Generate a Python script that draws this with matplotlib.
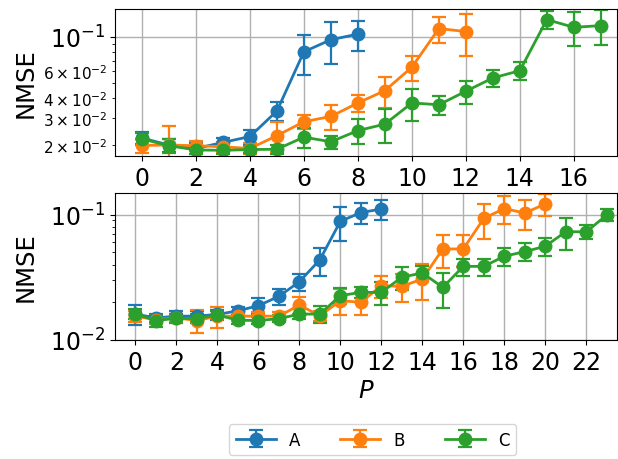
import numpy as np
import matplotlib
matplotlib.use("Agg")
import matplotlib.pyplot as plt

labels = ["A", "B", "C"]

# Top panel
top_x_A = list(range(0, 9))
top_A = [0.0222, 0.0200, 0.0190, 0.0208, 0.0227, 0.0332, 0.080, 0.0957, 0.104]
top_A_err = [0.002, 0.002, 0.0015, 0.0015, 0.0025, 0.0045, 0.023, 0.029, 0.023]

top_x_B = list(range(0, 13))
top_B = [0.0199, 0.0200, 0.0198, 0.0195, 0.0190, 0.0230, 0.0283, 0.0306, 0.0374,
         0.0449, 0.0636, 0.113, 0.108]
top_B_err = [0.002, 0.0067, 0.0015, 0.0015, 0.0015, 0.0050, 0.003, 0.0057, 0.0048,
             0.0103, 0.0117, 0.0215, 0.0325]

top_x_C = list(range(0, 18))
top_C = [0.0219, 0.0198, 0.0186, 0.0185, 0.0187, 0.0188, 0.0225, 0.0210, 0.0248,
         0.0273, 0.0374, 0.0364, 0.0445, 0.0542, 0.0604, 0.129, 0.115, 0.118]
top_C_err = [0.002, 0.002, 0.001, 0.001, 0.001, 0.0012, 0.0033, 0.002, 0.0045,
             0.0068, 0.0088, 0.0052, 0.0076, 0.0065, 0.0082, 0.0165, 0.0285, 0.030]

# Bottom panel
bot_x_A = list(range(0, 13))
bot_A = [0.0161, 0.0150, 0.0155, 0.0155, 0.0160, 0.0171, 0.0188, 0.0223, 0.0292,
         0.0437, 0.0886, 0.104, 0.111]
bot_A_err = [0.003, 0.0012, 0.0015, 0.0015, 0.0015, 0.0012, 0.0027, 0.0032, 0.0044,
             0.011, 0.027, 0.020, 0.021]

bot_x_B = list(range(0, 21))
bot_B = [0.0155, 0.0145, 0.0150, 0.0143, 0.0155, 0.0155, 0.0155, 0.0155, 0.0190,
         0.0156, 0.0206, 0.0200, 0.0271, 0.0268, 0.0307, 0.0533, 0.0533, 0.0935,
         0.112, 0.103, 0.122]
bot_B_err = [0.0015, 0.0012, 0.0012, 0.0030, 0.0030, 0.0012, 0.0012, 0.0012, 0.0030,
             0.0015, 0.0048, 0.0042, 0.0054, 0.0067, 0.0097, 0.016, 0.015, 0.029,
             0.028, 0.027, 0.025]

bot_x_C = list(range(0, 24))
bot_C = [0.0161, 0.0143, 0.0149, 0.0148, 0.0158, 0.0144, 0.0143, 0.0148, 0.0161,
         0.0161, 0.0226, 0.0240, 0.0240, 0.0317, 0.0343, 0.0263, 0.0387, 0.0387,
         0.0466, 0.0507, 0.0560, 0.0732, 0.0730, 0.0995]
bot_C_err = [0.0015, 0.0015, 0.0012, 0.0012, 0.0012, 0.0010, 0.0010, 0.0010, 0.0015,
             0.0025, 0.0032, 0.0025, 0.0050, 0.0067, 0.0045, 0.0082, 0.006, 0.006,
             0.0077, 0.0083, 0.009, 0.021, 0.009, 0.011]

colors = ["#1f77b4", "#ff7f0e", "#2ca02c"]
big = 17

fig = plt.figure(figsize=(6.18, 4.6), dpi=100)
ax1 = fig.add_axes([115/618, 1-157/460, 502/618, 147/460])
ax2 = fig.add_axes([115/618, 1-341/460, 502/618, 147/460])

style = dict(marker="o", ms=9, lw=2.0, capsize=5, elinewidth=1.6, capthick=1.6)

top = [(top_x_A, top_A, top_A_err), (top_x_B, top_B, top_B_err), (top_x_C, top_C, top_C_err)]
bot = [(bot_x_A, bot_A, bot_A_err), (bot_x_B, bot_B, bot_B_err), (bot_x_C, bot_C, bot_C_err)]

handles = []
for (x, y, e), c, lab in zip(top, colors, labels):
    h = ax1.errorbar(x, y, yerr=e, color=c, label=lab, **style)
    handles.append(h)
for (x, y, e), c in zip(bot, colors):
    ax2.errorbar(x, y, yerr=e, color=c, **style)

for ax in (ax1, ax2):
    ax.set_yscale("log")
    ax.grid(True, which="major", color="#b0b0b0", lw=1.0)
    ax.set_axisbelow(True)
    ax.set_ylabel("NMSE", fontsize=17.5)
    ax.tick_params(axis="both", which="major", labelsize=big)
    ax.tick_params(axis="y", which="minor", labelsize=11)

ax1.set_xlim(-1, 17.6)
ax1.set_ylim(0.017, 0.151)
ax1.set_xticks(np.arange(0, 17, 2))

ax2.set_xlim(-1, 23.5)
ax2.set_ylim(0.01, 0.149)
ax2.set_xticks(np.arange(0, 23, 2))
ax2.set_xlabel("$P$", fontsize=17.5, labelpad=3)

ax1.yaxis.set_label_coords(-0.155, 0.5)
ax2.yaxis.set_label_coords(-0.155, 0.5)

fig.legend(handles=handles, labels=labels, loc="lower center", ncol=3,
           fontsize=12, bbox_to_anchor=(0.603, -0.01), handlelength=2.4,
           columnspacing=2.4)

fig.savefig("out.png", dpi=100)
